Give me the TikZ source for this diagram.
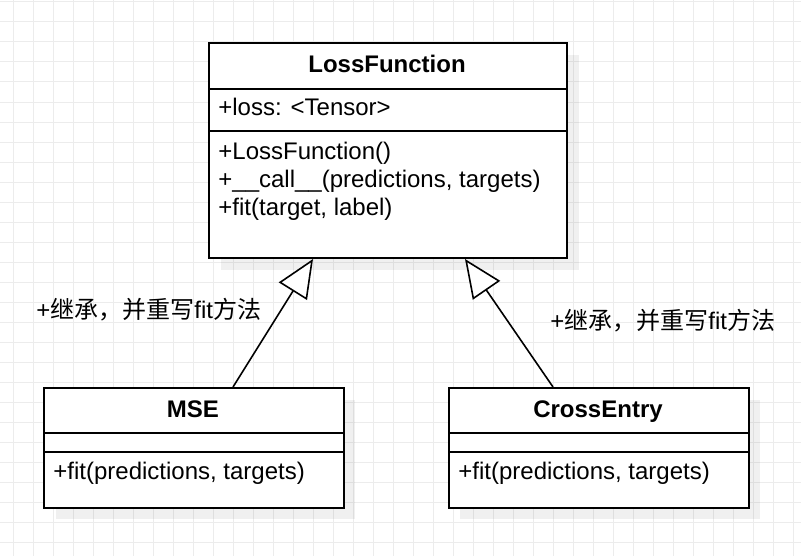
\documentclass[tikz,border=0pt]{standalone}
\usepackage{fontspec}
\setmainfont{Liberation Sans}
\newfontfamily\cjk{Noto Sans CJK SC}
\usetikzlibrary{arrows.meta,calc}
\definecolor{gridc}{RGB}{236,236,236}
\tikzset{
  classbox/.style={draw=black, line width=1pt, fill=white, anchor=north west, inner sep=0pt},
  shadowbox/.style={fill=black, fill opacity=0.06},
  divider/.style={draw=black, line width=1pt},
  title/.style={font=\fontsize{12pt}{14pt}\selectfont\bfseries, anchor=base, inner sep=0pt},
  member/.style={font=\fontsize{12pt}{14pt}\selectfont, anchor=base west, inner sep=0pt},
  note/.style={font=\fontsize{12pt}{14pt}\selectfont, anchor=base west, inner sep=0pt},
  inherit/.style={draw=black, line width=0.8pt, -{Triangle[length=19pt, width=16.5pt, fill=white]}}
}
\begin{document}
\begin{tikzpicture}[x=0.5pt, y=-0.5pt]
\useasboundingbox (0,0) rectangle (801,556);
\fill[white] (0,0) rectangle (801,556);
\foreach \gx in {13,33,...,793} \draw[gridc, line width=0.5pt] (\gx,0) -- (\gx,556);
\foreach \gy in {2,22,...,542} \draw[gridc, line width=0.5pt] (0,\gy) -- (801,\gy);

% shadows
\fill[shadowbox] (221,55) rectangle (579,270);
\fill[shadowbox] (56,400) rectangle (355,519);
\fill[shadowbox] (460,400) rectangle (760,519);

% LossFunction
\node[classbox, minimum width=179pt, minimum height=107.5pt] (lf) at (208,42) {};
\coordinate (lfd1) at (0,89);
\coordinate (lfd2) at (0,131);
\draw[divider] (lf.west |- lfd1) -- (lf.east |- lfd1);
\draw[divider] (lf.west |- lfd2) -- (lf.east |- lfd2);
\node[title] (lft) at (387,73) {LossFunction};
\node[member] (lfa) at (218,115) {+loss: <Tensor>};
\node[member] (lfm1) at (218,159) {+LossFunction()};
\node[member] (lfm2) at (218,187) {+\_\_call\_\_(predictions, targets)};
\node[member] (lfm3) at (218,215) {+fit(target, label)};

% MSE
\node[classbox, minimum width=150pt, minimum height=60pt] (mse) at (43,387) {};
\coordinate (msed1) at (0,433);
\coordinate (msed2) at (0,452);
\draw[divider] (mse.west |- msed1) -- (mse.east |- msed1);
\draw[divider] (mse.west |- msed2) -- (mse.east |- msed2);
\node[title] (mset) at (193,417) {MSE};
\node[member] (msem) at (53,479) {+fit(predictions, targets)};

% CrossEntry
\node[classbox, minimum width=150pt, minimum height=60pt] (ce) at (448,387) {};
\coordinate (ced1) at (0,433);
\coordinate (ced2) at (0,452);
\draw[divider] (ce.west |- ced1) -- (ce.east |- ced1);
\draw[divider] (ce.west |- ced2) -- (ce.east |- ced2);
\node[title] (cet) at (598,417) {CrossEntry};
\node[member] (cem) at (458,479) {+fit(predictions, targets)};

% inheritance connectors
\draw[inherit] ($(mse.north west)+(190,0)$) -- ($(lf.south west)+(105,0)$);
\draw[inherit] ($(ce.north west)+(105,0)$) -- ($(lf.south west)+(257,0)$);

% labels
\node[note] (n1) at (36,318) {+{\cjk 继承，并重写}fit{\cjk 方法}};
\node[note] (n2) at (550,329) {+{\cjk 继承，并重写}fit{\cjk 方法}};
\end{tikzpicture}
\end{document}
